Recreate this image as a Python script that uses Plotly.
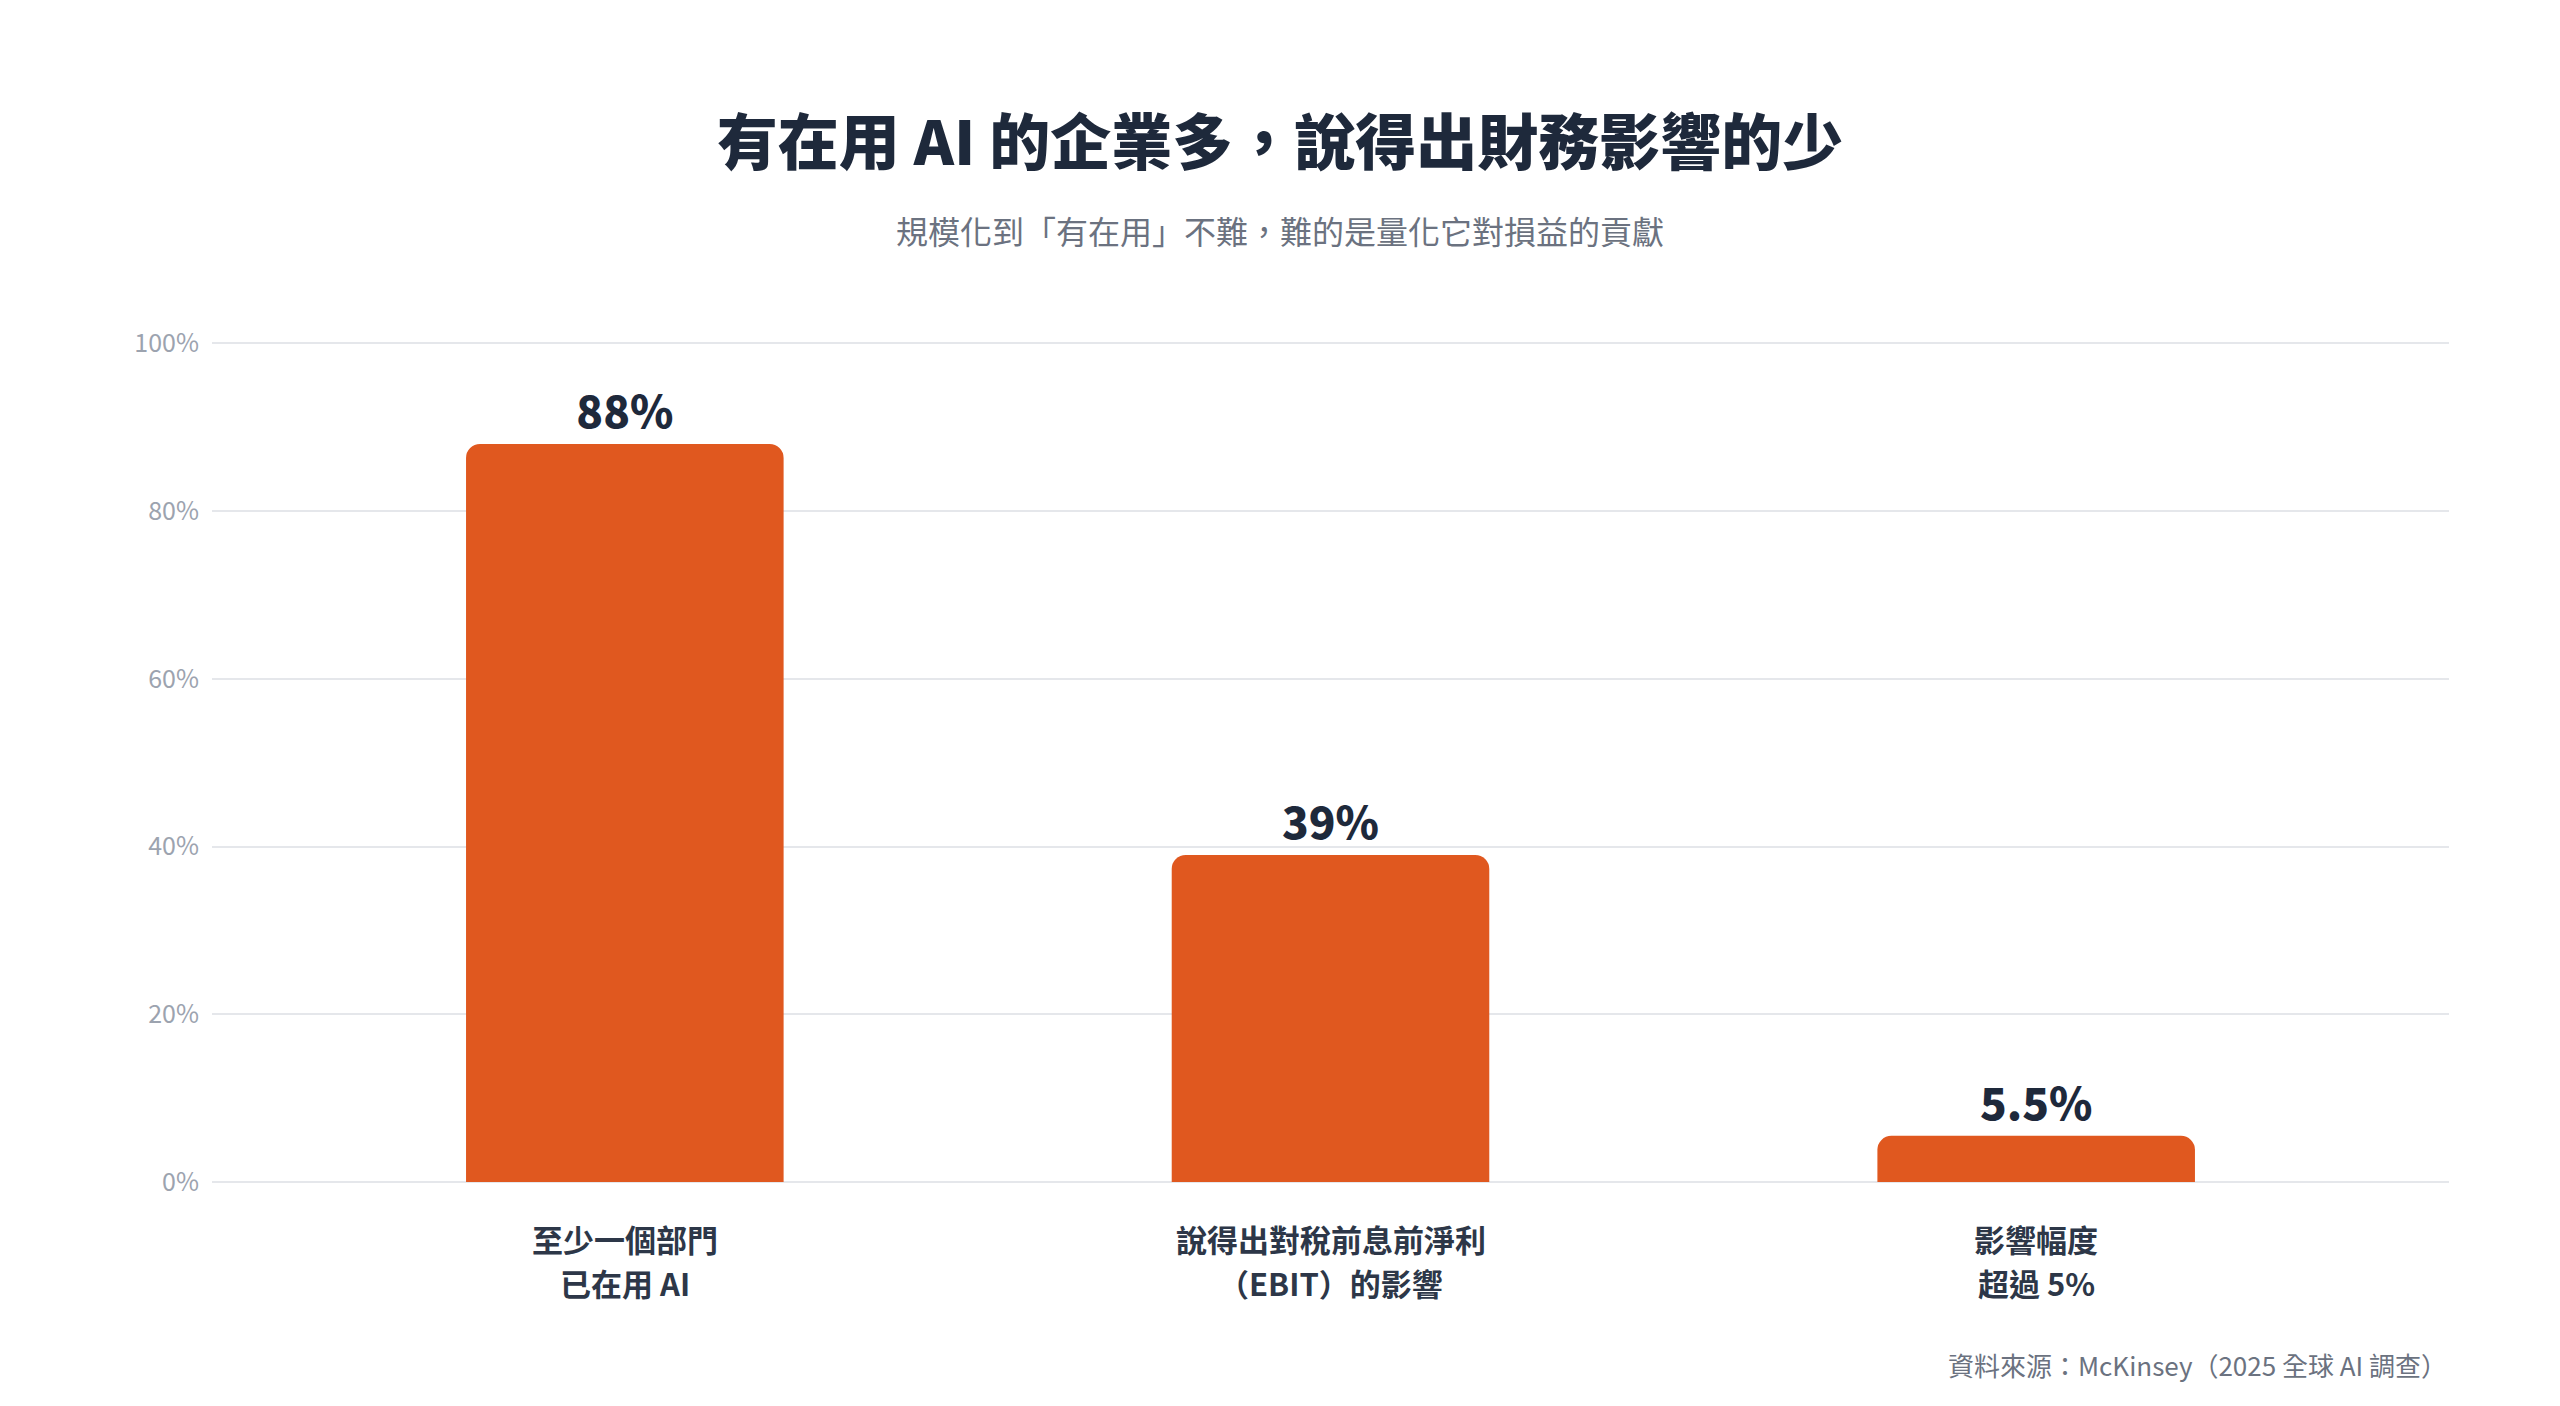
import plotly.graph_objects as go

# 數據：McKinsey 2025 全球 AI 調查
categories = ["至少一個部門<br>已在用 AI", "說得出對稅前息前淨利<br>（EBIT）的影響", "影響幅度<br>超過 5%"]
values = [88, 39, 5.5]
value_labels = ["88%", "39%", "5.5%"]
y_ticks = [0, 20, 40, 60, 80, 100]
y_tick_labels = ["0%", "20%", "40%", "60%", "80%", "100%"]

title_text = "有在用 AI 的企業多，說得出財務影響的少"
subtitle_text = "規模化到「有在用」不難，難的是量化它對損益的貢獻"
source_text = "資料來源：McKinsey（2025 全球 AI 調查）"

FONT = "Noto Sans CJK TC"
BAR_COLOR = "#E0581F"
DARK = "#1E293B"

W, H = 2560, 1406
# plot box (page pixels); the page body adds 8px margin
L, T, R, B = 204, 334, 119, 232
PH = H - T - B

bars = go.Bar(
    x=categories,
    y=values,
    width=0.45,
    marker=dict(color=BAR_COLOR, line=dict(width=0)),
    text=value_labels,
    textposition="outside",
    cliponaxis=False,
    textfont=dict(family=FONT, size=44, color=DARK, weight=900),
    hoverinfo="skip",
)

fig = go.Figure(data=[bars])
fig.update_layout(
    width=W,
    height=H,
    paper_bgcolor="white",
    plot_bgcolor="white",
    margin=dict(l=L, r=R, t=T, b=B),
    barcornerradius=14,
    showlegend=False,
    font=dict(family=FONT),
    title=dict(
        text=title_text,
        x=(1280 - 8) / W, xanchor="center",
        y=1 - 136 / H, yanchor="middle",
        font=dict(family=FONT, size=61, color=DARK, weight=900),
    ),
    xaxis=dict(
        range=[-0.585, 2.585],
        showgrid=False,
        zeroline=False,
        showline=False,
        showticklabels=False,
        ticks="",
    ),
    yaxis=dict(
        range=[0, 100.15],
        tickvals=y_ticks,
        ticktext=y_tick_labels,
        showgrid=True,
        gridcolor="#E5E7EB",
        gridwidth=2,
        zeroline=True,
        zerolinecolor="#E5E7EB",
        zerolinewidth=2,
        showline=False,
        ticks="",
        ticklabelstandoff=12,
        tickfont=dict(family=FONT, size=25, color="#9CA3AF"),
    ),
)

# category labels, two lines each, with wider line spacing than tick labels allow
for cat in categories:
    for i, line in enumerate(cat.split("<br>")):
        fig.add_annotation(
            text=line,
            xref="x", yref="paper",
            x=cat, y=-(56 + 44 * i) / PH,
            xanchor="center", yanchor="middle",
            showarrow=False,
            font=dict(family=FONT, size=31, color="#2D3748", weight="bold"),
        )

fig.add_annotation(
    text=subtitle_text,
    xref="paper", yref="paper",
    x=(1280 - 212) / 2237, y=1 + (343 - 231) / PH,
    xanchor="center", yanchor="middle",
    showarrow=False,
    font=dict(family=FONT, size=32, color="#6B7280"),
)

fig.add_annotation(
    text=source_text,
    xref="paper", yref="paper",
    x=(2449 - 212) / 2237, y=-(1364 - 1182) / PH,
    xanchor="right", yanchor="middle",
    showarrow=False,
    font=dict(family=FONT, size=26, color="#6B7280"),
)

fig.write_html("out.html")
